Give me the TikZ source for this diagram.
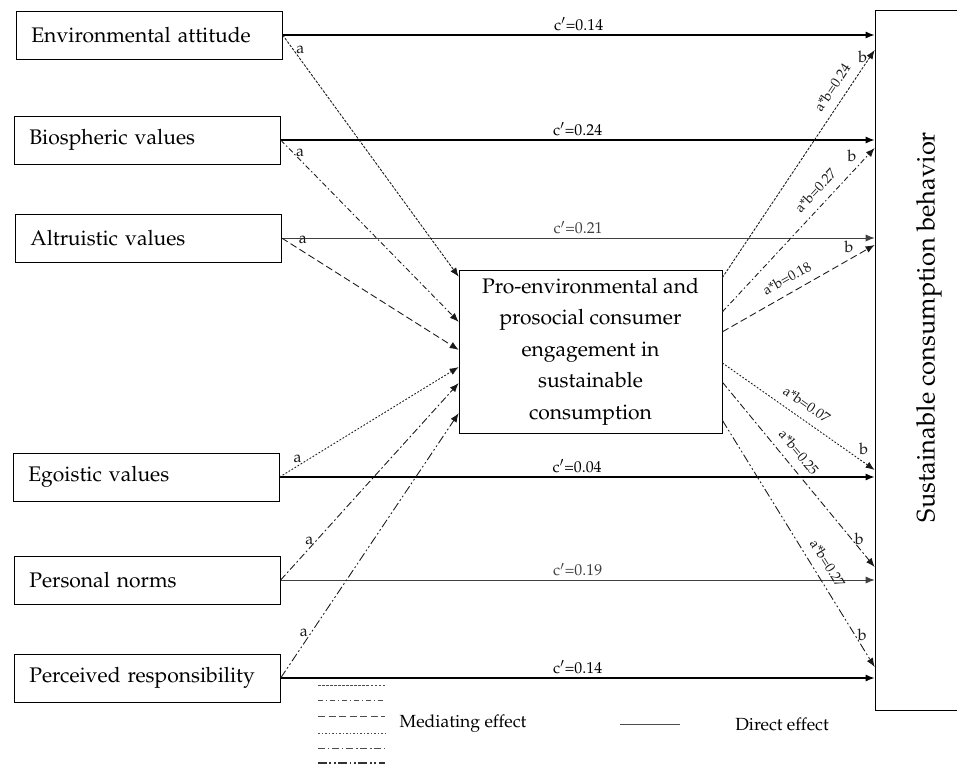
\documentclass[tikz,border=0pt]{standalone}
\usepackage[T1]{fontenc}
\usepackage{mathpazo}
\usetikzlibrary{arrows.meta,calc}

\begin{document}
\begin{tikzpicture}[x=0.02cm, y=-0.02cm,
    srcbox/.style={draw, thin, anchor=west, minimum width=5.32cm, minimum height=0.96cm, text width=4.72cm, inner xsep=0.3cm, align=left, font=\fontsize{12}{14}\selectfont},
    medbox/.style={draw, thin, minimum width=5.26cm, minimum height=3.26cm, align=center, inner sep=1pt, font=\fontsize{12}{17.9}\selectfont},
    tip/.style={-{Latex[length=1.8mm,width=1.4mm]}},
    direct/.style={tip, line width=0.7pt},
    directthin/.style={tip, line width=0.45pt, black!75},
    mediate/.style={tip, line width=0.5pt, black!90},
    envline/.style={dash pattern=on 1.5pt off 0.8pt},
    bioline/.style={dash pattern=on 3pt off 1.5pt on 0.8pt off 1.5pt},
    altline/.style={dash pattern=on 4pt off 2pt},
    egoline/.style={dash pattern=on 1pt off 1pt},
    perline/.style={dash pattern=on 4pt off 1.5pt on 1pt off 1.5pt},
    pcvline/.style={dash pattern=on 5pt off 1.5pt on 1pt off 1.5pt on 1pt off 1.5pt},
    clab/.style={midway, above, inner sep=2pt, font=\fontsize{9}{11}\selectfont},
    alab/.style={inner sep=1.5pt, font=\fontsize{9}{11}\selectfont},
    ablab/.style={sloped, above, inner sep=5pt, font=\fontsize{8}{9}\selectfont}]

        \useasboundingbox (0,0) rectangle (957,764);

        % Predictors
        \node[srcbox] (env) at (16,35) {Environmental attitude};
        \node[srcbox] (bio) at (14,140) {Biospheric values};
        \node[srcbox] (alt) at (15,238) {Altruistic values};
        \node[srcbox] (ego) at (13,477) {Egoistic values};
        \node[srcbox] (pers) at (14,580) {Personal norms};
        \node[srcbox] (perc) at (14,678) {Perceived responsibility};

        % Mediator
        \node[medbox] (med) at (590.5,351.5) {Pro-environmental and\\ prosocial consumer\\ engagement in\\ sustainable\\ consumption};

        % Outcome
        \node[draw, thin, minimum width=2.2cm, minimum height=14cm, inner sep=0pt] (out) at (930,360) {};
        \node[rotate=90, font=\fontsize{14.5}{16}\selectfont] (outlbl) at (929,327) {Sustainable consumption behavior};

        % Direct effects
        \draw[direct] (env.east) -- (env.east -| out.west) node[clab] {c$'$=0.14};
        \draw[direct] (bio.east) -- (bio.east -| out.west) node[clab] {c$'$=0.24};
        \draw[directthin] (alt.east) -- (alt.east -| out.west) node[clab] {c$'$=0.21};
        \draw[direct] (ego.east) -- (ego.east -| out.west) node[clab] {c$'$=0.04};
        \draw[directthin] (pers.east) -- (pers.east -| out.west) node[clab] {c$'$=0.19};
        \draw[direct] (perc.east) -- (perc.east -| out.west) node[clab] {c$'$=0.14};

        % Paths a (predictor to mediator)
        \draw[mediate, envline] (env.east) -- ($(med.north west)!0.043!(med.south west)$) node[alab, pos=0.06, right] {a};
        \draw[mediate, bioline] (bio.east) -- ($(med.north west)!0.319!(med.south west)$) node[alab, pos=0.07, right] {a};
        \draw[mediate, altline] (alt.east) -- ($(med.north west)!0.49!(med.south west)$) node[alab, pos=0.08, above right] {a};
        \draw[mediate, egoline] (ego.east) -- ($(med.north west)!0.595!(med.south west)$) node[alab, pos=0.1, above] {a};
        \draw[mediate, perline] (pers.east) -- ($(med.north west)!0.693!(med.south west)$) node[alab, pos=0.2, left] {a};
        \draw[mediate, pcvline] (perc.east) -- ($(med.north west)!0.877!(med.south west)$) node[alab, pos=0.17, left] {a};

        % Paths b (mediator to outcome)
        \draw[mediate, envline] ($(med.north east)!0.049!(med.south east)$) -- ($(env.east -| out.west)+(0,15)$)
            node[ablab, pos=0.8] {a*b=0.24} node[alab, pos=0.97, left] {b};
        \draw[mediate, bioline] ($(med.north east)!0.258!(med.south east)$) -- ($(bio.east -| out.west)+(0,8)$)
            node[ablab, pos=0.68] {a*b=0.27} node[alab, pos=0.9, above left] {b};
        \draw[mediate, altline] ($(med.north east)!0.38!(med.south east)$) -- ($(alt.east -| out.west)+(0,7)$)
            node[ablab, pos=0.47] {a*b=0.18} node[alab, pos=0.88, above left] {b};
        \draw[mediate, egoline] ($(med.north east)!0.57!(med.south east)$) -- ($(ego.east -| out.west)+(0,-7)$)
            node[ablab, pos=0.5] {a*b=0.07} node[alab, pos=0.88, above right] {b};
        \draw[mediate, perline] ($(med.north east)!0.687!(med.south east)$) -- ($(pers.east -| out.west)+(0,-13)$)
            node[ablab, pos=0.43] {a*b=0.25} node[alab, pos=0.85, right] {b};
        \draw[mediate, pcvline] ($(med.north east)!0.92!(med.south east)$) -- ($(perc.east -| out.west)+(0,-11)$)
            node[ablab, pos=0.61] {a*b=0.27} node[alab, pos=0.87, right] {b};

        % Legend
        \draw[black!70, envline] (318,685) -- (385,685);
        \draw[black!70, bioline] (318,700) -- (385,700);
        \draw[black!70, altline] (318,716) -- (385,716);
        \draw[black!70, egoline] (318,733) -- (385,733);
        \draw[black!70, perline] (318,748) -- (385,748);
        \draw[black!80, line width=0.8pt, pcvline] (318,763) -- (385,763);
        \node[font=\fontsize{10}{12}\selectfont] (medleg) at (463,724) {Mediating effect};
        \draw[black!70] (620,724) -- (680,724);
        \node[font=\fontsize{10}{12}\selectfont] (dirleg) at (782,724) {Direct effect};
      \end{tikzpicture}
\end{document}
